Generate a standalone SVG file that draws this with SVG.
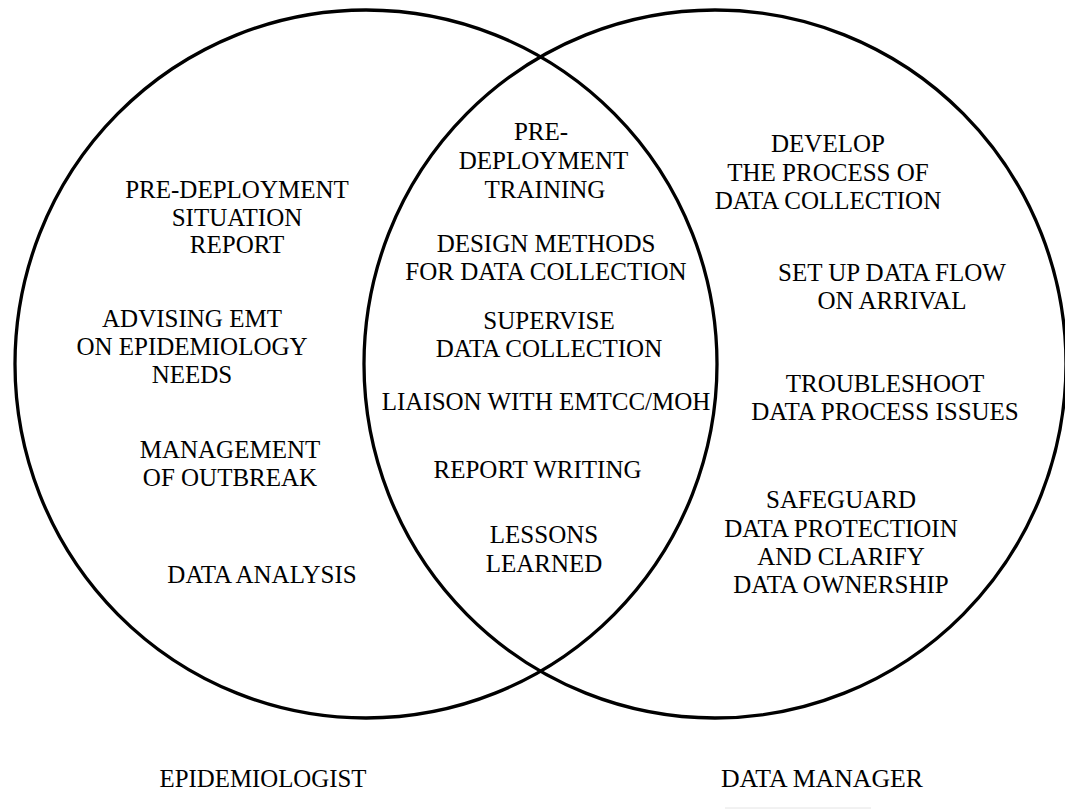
<svg xmlns="http://www.w3.org/2000/svg" width="1065" height="809" viewBox="0 0 1065 809">
  <style>
    .ring { fill: none; stroke: #000; stroke-width: 3.3; }
    text { font-family: 'Liberation Serif', 'Times New Roman', serif; fill: #000; }
    .t text { font-size: 25px; text-anchor: middle; }
    .cap { font-size: 26px; }
  </style>
  <rect width="1065" height="809" fill="#fff"/>

  <!-- the two overlapping role circles -->
  <g id="circle-epidemiologist">
    <ellipse class="ring" cx="366" cy="364" rx="351" ry="354"/>
  </g>
  <g id="circle-data-manager">
    <ellipse class="ring" cx="715" cy="364" rx="351" ry="354"/>
  </g>

  <!-- epidemiologist-only tasks -->
  <g id="epi-sitrep" class="t">
    <text x="237" y="198">PRE-DEPLOYMENT</text>
    <text x="237" y="225.5">SITUATION</text>
    <text x="237" y="253">REPORT</text>
  </g>
  <g id="epi-advising" class="t">
    <text x="192" y="327">ADVISING EMT</text>
    <text x="192" y="355">ON EPIDEMIOLOGY</text>
    <text x="192" y="383">NEEDS</text>
  </g>
  <g id="epi-outbreak" class="t">
    <text x="230" y="458">MANAGEMENT</text>
    <text x="230" y="486">OF OUTBREAK</text>
  </g>
  <g id="epi-analysis" class="t">
    <text x="262" y="583">DATA ANALYSIS</text>
  </g>

  <!-- shared tasks -->
  <g id="shared-training" class="t">
    <text x="541" y="140">PRE-</text>
    <text x="543.5" y="169">DEPLOYMENT</text>
    <text x="545" y="197.5">TRAINING</text>
  </g>
  <g id="shared-design" class="t">
    <text x="546" y="251.7">DESIGN METHODS</text>
    <text x="546" y="280">FOR DATA COLLECTION</text>
  </g>
  <g id="shared-supervise" class="t">
    <text x="549" y="328.5">SUPERVISE</text>
    <text x="549" y="357">DATA COLLECTION</text>
  </g>
  <g id="shared-liaison" class="t">
    <text x="546" y="410">LIAISON WITH EMTCC/MOH</text>
  </g>
  <g id="shared-report" class="t">
    <text x="537.5" y="478">REPORT WRITING</text>
  </g>
  <g id="shared-lessons" class="t">
    <text x="544" y="542.7">LESSONS</text>
    <text x="544" y="571.5">LEARNED</text>
  </g>

  <!-- data-manager-only tasks -->
  <g id="dm-develop" class="t">
    <text x="828" y="151.7">DEVELOP</text>
    <text x="828" y="180.5">THE PROCESS OF</text>
    <text x="828" y="208.5">DATA COLLECTION</text>
  </g>
  <g id="dm-dataflow" class="t">
    <text x="892" y="280.7">SET UP DATA FLOW</text>
    <text x="892" y="309">ON ARRIVAL</text>
  </g>
  <g id="dm-troubleshoot" class="t">
    <text x="885" y="391.7">TROUBLESHOOT</text>
    <text x="885" y="420">DATA PROCESS ISSUES</text>
  </g>
  <g id="dm-safeguard" class="t">
    <text x="841" y="508.3">SAFEGUARD</text>
    <text x="841" y="536.7">DATA PROTECTIOIN</text>
    <text x="841" y="565">AND CLARIFY</text>
    <text x="841" y="592.7">DATA OWNERSHIP</text>
  </g>

  <!-- circle captions -->
  <g id="label-epidemiologist">
    <text class="cap" x="159.5" y="787" textLength="207" lengthAdjust="spacingAndGlyphs">EPIDEMIOLOGIST</text>
  </g>
  <g id="label-data-manager">
    <text class="cap" x="721" y="787" textLength="202" lengthAdjust="spacingAndGlyphs">DATA MANAGER</text>
    <line x1="725" y1="808" x2="871" y2="808" stroke="#e4e4e4" stroke-width="1"/>
  </g>
</svg>
